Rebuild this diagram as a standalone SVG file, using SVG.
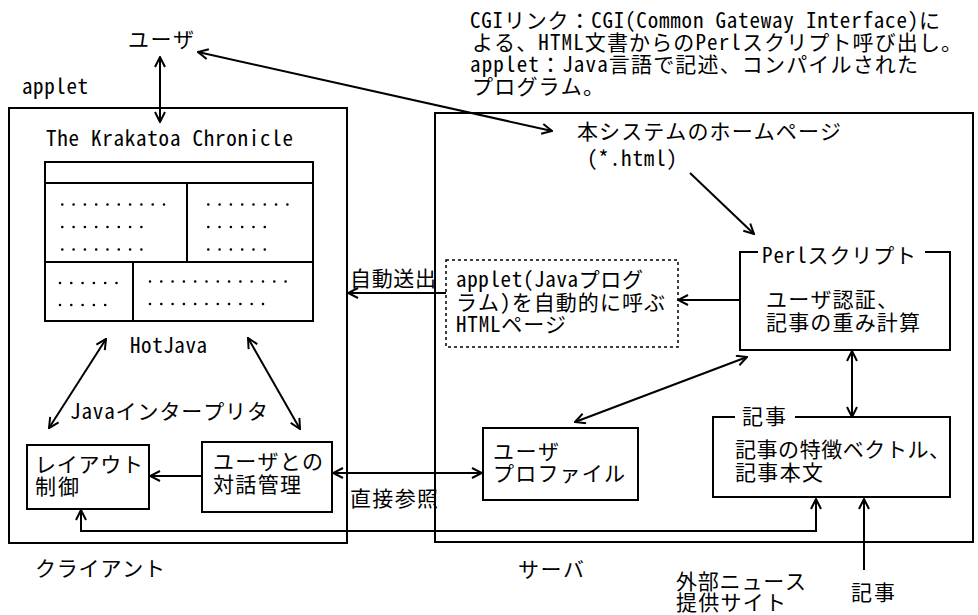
<svg xmlns="http://www.w3.org/2000/svg" width="978" height="615" viewBox="0 0 978 615">
<style>
.t{font-family:"Noto Sans Mono CJK JP","Noto Sans CJK JP",sans-serif;font-size:21px;fill:#000}
.b{fill:#fff;stroke:#000;stroke-width:2}
.n{fill:none;stroke:#000;stroke-width:2}
.c{fill:none;stroke:#000;stroke-width:2}
.d{fill:none;stroke:#000;stroke-width:2.6;stroke-dasharray:0 11.3;stroke-linecap:round}
.dash{fill:#fff;stroke:#000;stroke-width:1.5;stroke-dasharray:3 3}
</style>
<defs>
<marker id="a" viewBox="0 0 12 12" refX="11" refY="6" markerWidth="12" markerHeight="12" markerUnits="userSpaceOnUse" orient="auto-start-reverse"><path d="M1,1 L11,6 L1,11" fill="none" stroke="#000" stroke-width="2"/></marker>
</defs>
<rect width="978" height="615" fill="#fff"/>

<g id="note">
<text class="t"><tspan x="470" y="28" textLength="470">CGIリンク：CGI(Common Gateway Interface)に</tspan><tspan x="472" y="50" textLength="490">よる、HTML文書からのPerlスクリプト呼び出し。</tspan><tspan x="470" y="72" textLength="448">applet：Java言語で記述、コンパイルされた</tspan><tspan x="472" y="94" textLength="132">プログラム。</tspan></text>
</g>

<g id="user"><text class="t" x="128" y="47" textLength="66">ユーザ</text></g>
<text class="t" x="22" y="94" textLength="66">applet</text>

<g id="client">
<rect class="n" x="9" y="108" width="338" height="435"/>
<text class="t" x="35" y="576" textLength="130">クライアント</text>
</g>

<g id="browser">
<text class="t" x="46" y="146" textLength="247">The Krakatoa Chronicle</text>
<rect class="b" x="45" y="162" width="268" height="159"/>
<path class="n" d="M45,183 H313 M187,183 V262 M45,262 H313 M133,262 V321"/>
<line class="d" x1="62.3" y1="204.5" x2="164.5" y2="204.5"/>
<line class="d" x1="62.3" y1="227" x2="141.9" y2="227"/>
<line class="d" x1="62.3" y1="249.5" x2="141.9" y2="249.5"/>
<line class="d" x1="208.3" y1="204.5" x2="288" y2="204.5"/>
<line class="d" x1="208.3" y1="227" x2="265.3" y2="227"/>
<line class="d" x1="208.3" y1="249.5" x2="265.3" y2="249.5"/>
<line class="d" x1="60" y1="283" x2="117" y2="283"/>
<line class="d" x1="60" y1="305" x2="105.7" y2="305"/>
<line class="d" x1="150" y1="281.5" x2="286.1" y2="281.5"/>
<line class="d" x1="150" y1="304" x2="263.5" y2="304"/>
<text class="t" x="130" y="353" textLength="77">HotJava</text>
<text class="t" x="70" y="419" textLength="198">Javaインタープリタ</text>
</g>

<g id="layout">
<rect class="b" x="27" y="445" width="122" height="64"/>
<text class="t"><tspan x="35" y="472" textLength="108">レイアウト</tspan><tspan x="35" y="494" textLength="44">制御</tspan></text>
</g>

<g id="dialog">
<rect class="b" x="202" y="442" width="130" height="70"/>
<text class="t"><tspan x="213" y="469" textLength="110">ユーザとの</tspan><tspan x="213" y="492" textLength="88">対話管理</tspan></text>
</g>

<g id="server">
<rect class="n" x="435" y="113" width="538" height="429"/>
<text class="t" x="518" y="577" textLength="66">サーバ</text>
</g>

<g id="homepage">
<text class="t"><tspan x="577" y="139" textLength="264">本システムのホームページ</tspan><tspan x="587" y="166" textLength="90">(*.html)</tspan></text>
</g>

<g id="applet-page">
<rect class="dash" x="446" y="260" width="232" height="87"/>
<text class="t"><tspan x="456" y="287" textLength="187">applet(Javaプログ</tspan><tspan x="456" y="310" textLength="209">ラム)を自動的に呼ぶ</tspan><tspan x="456" y="332" textLength="110">HTMLページ</tspan></text>
</g>

<g id="perl">
<rect x="740" y="252" width="210" height="98" fill="#fff"/>
<path class="n" d="M758,252 H740 V350 H950 V252 H925"/>
<text class="t" x="762" y="263" textLength="154">Perlスクリプト</text>
<text class="t"><tspan x="766" y="307" textLength="132">ユーザ認証、</tspan><tspan x="766" y="330" textLength="154">記事の重み計算</tspan></text>
</g>

<g id="profile">
<rect class="b" x="483" y="428" width="155" height="72"/>
<text class="t"><tspan x="493" y="459" textLength="66">ユーザ</tspan><tspan x="493" y="481" textLength="132">プロファイル</tspan></text>
</g>

<g id="article">
<rect x="713" y="417" width="237" height="80" fill="#fff"/>
<path class="n" d="M735,417 H713 V497 H950 V417 H795"/>
<text class="t" x="742" y="424" textLength="44">記事</text>
<text class="t"><tspan x="735" y="457" textLength="215">記事の特徴ベクトル、</tspan><tspan x="735" y="480" textLength="88">記事本文</tspan></text>
</g>

<g id="news">
<text class="t"><tspan x="676" y="589" textLength="130">外部ニュース</tspan><tspan x="676" y="610" textLength="110">提供サイト</tspan></text>
</g>

<g id="connectors">
<line class="c" x1="160" y1="57" x2="160" y2="122" marker-start="url(#a)" marker-end="url(#a)"/>
<line class="c" x1="198" y1="52" x2="552" y2="131" marker-start="url(#a)" marker-end="url(#a)"/>
<line class="c" x1="690" y1="173" x2="754" y2="234" marker-end="url(#a)"/>
<line class="c" x1="740" y1="300" x2="678" y2="300" marker-end="url(#a)"/>
<line class="c" x1="446" y1="293" x2="348" y2="293" marker-end="url(#a)"/>
<text class="t" x="350" y="286" textLength="86">自動送出</text>
<line class="c" x1="106" y1="339" x2="49" y2="428" marker-start="url(#a)" marker-end="url(#a)"/>
<line class="c" x1="248" y1="338" x2="300" y2="429" marker-start="url(#a)" marker-end="url(#a)"/>
<line class="c" x1="202" y1="476" x2="150" y2="476" marker-end="url(#a)"/>
<line class="c" x1="333" y1="473" x2="482" y2="473" marker-start="url(#a)" marker-end="url(#a)"/>
<text class="t" x="350" y="506" textLength="88">直接参照</text>
<path class="c" d="M81,510 V531 H816 V499" marker-start="url(#a)" marker-end="url(#a)"/>
<line class="c" x1="575" y1="422" x2="747" y2="357" marker-start="url(#a)" marker-end="url(#a)"/>
<line class="c" x1="852" y1="351" x2="852" y2="417" marker-start="url(#a)" marker-end="url(#a)"/>
<line class="c" x1="864" y1="570" x2="864" y2="499" marker-end="url(#a)"/>
<text class="t" x="851" y="600" textLength="44">記事</text>
</g>
</svg>
